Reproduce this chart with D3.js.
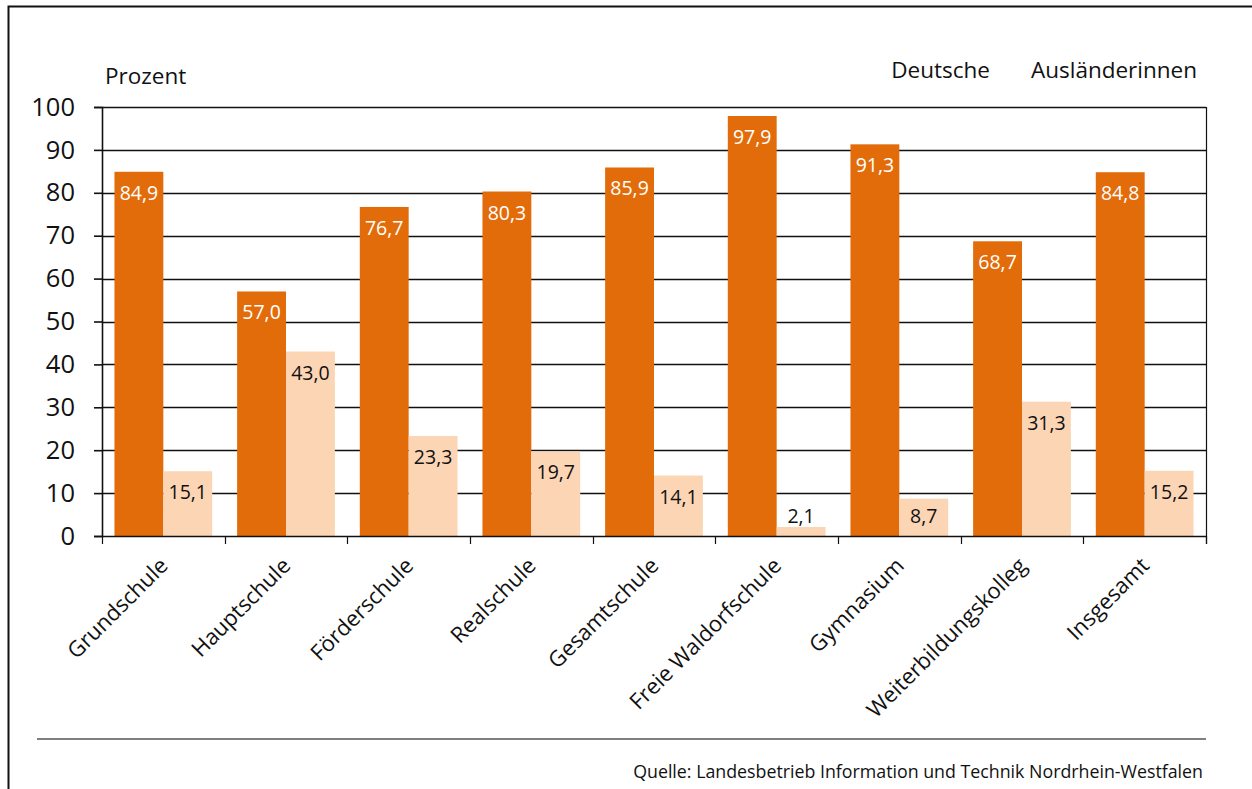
<!doctype html>
<html>
<head>
  <meta charset="utf-8">
  <script src="https://d3js.org/d3.v7.min.js"></script>
  <style>
    body { margin: 0; background: #fff; }
    svg text { font-family: 'Open Sans', sans-serif; fill: #111; }
  </style>
</head>
<body>
  <svg width="1252" height="789"></svg>
  <script>
    // Anteil Deutsche / Ausländerinnen nach Schulform, Prozent
    var schulformen = ["Grundschule", "Hauptschule", "Förderschule", "Realschule", "Gesamtschule",
      "Freie Waldorfschule", "Gymnasium", "Weiterbildungskolleg", "Insgesamt"];
    var deutsche = [84.9, 57.0, 76.7, 80.3, 85.9, 97.9, 91.3, 68.7, 84.8];
    var auslaenderinnen = [15.1, 43.0, 23.3, 19.7, 14.1, 2.1, 8.7, 31.3, 15.2];
    var serien = ["Deutsche", "Ausländerinnen"];
    var yTicks = [0, 10, 20, 30, 40, 50, 60, 70, 80, 90, 100];

    var svg = d3.select("svg");
    var m = { left: 102, right: 1206, top: 107, bottom: 536 };

    // outer frame (right/bottom edge outside the picture)
    svg.append("path")
      .attr("d", "M8.5,789V6.5H1252")
      .attr("fill", "none")
      .attr("stroke", "#111")
      .attr("stroke-width", 2);

    var x = d3.scaleBand().domain(schulformen).range([m.left, m.right]).paddingInner(0).paddingOuter(0);
    var x1 = d3.scaleBand().domain(serien).range([0, x.bandwidth()]).paddingOuter(0.255);
    var y = d3.scaleLinear().domain([0, 100]).range([m.bottom, m.top]);
    var colors = ["#e36c0a", "#fcd5b5"];

    // gridlines
    svg.append("g")
      .selectAll("line")
      .data(yTicks.slice(1))
      .enter()
      .append("line")
      .attr("x1", m.left).attr("x2", m.right)
      .attr("y1", d => Math.round(y(d)) + 0.5).attr("y2", d => Math.round(y(d)) + 0.5)
      .attr("stroke", "#111").attr("stroke-width", 1.6);

    // right border of the plot
    svg.append("line")
      .attr("x1", m.right + 0.5).attr("x2", m.right + 0.5)
      .attr("y1", m.top).attr("y2", m.bottom + 8)
      .attr("stroke", "#111").attr("stroke-width", 1.2);

    var rows = schulformen.map((s, i) => ({ s: s, vals: [deutsche[i], auslaenderinnen[i]] }));

    var groups = svg.append("g")
      .selectAll("g")
      .data(rows)
      .enter()
      .append("g")
      .attr("transform", d => "translate(" + x(d.s) + ",0)");

    groups.selectAll("rect")
      .data(d => d.vals.map((v, j) => ({ k: serien[j], v: v, j: j })))
      .enter()
      .append("rect")
      .attr("x", d => x1(d.k))
      .attr("width", x1.bandwidth())
      .attr("y", d => y(d.v))
      .attr("height", d => y(0) - y(d.v))
      .attr("fill", d => colors[d.j]);

    // value labels near the bar top; short bars keep the label just above the axis
    groups.selectAll("text")
      .data(d => d.vals.map((v, j) => ({ k: serien[j], v: v, j: j })))
      .enter()
      .append("text")
      .attr("x", d => x1(d.k) + x1.bandwidth() / 2)
      .attr("y", d => Math.min(y(d.v) + 28, y(0) - 13))
      .attr("text-anchor", "middle")
      .style("font-size", "19.5px")
      .style("fill", d => d.j === 0 ? "#fff" : "#111")
      .text(d => d3.format(".1f")(d.v).replace(".", ","));

    // y axis
    var yAxis = svg.append("g")
      .attr("transform", "translate(" + m.left + ",0)")
      .call(d3.axisLeft(y).tickValues(yTicks).tickSize(8).tickPadding(19).tickFormat(d3.format("d")));
    yAxis.select(".domain").attr("stroke", "#111").attr("stroke-width", 1.6);
    yAxis.selectAll(".tick line").attr("stroke", "#111").attr("stroke-width", 1.6);
    yAxis.selectAll("text").style("font-size", "25.5px").style("font-family", "'Open Sans', sans-serif").attr("fill", "#111");

    // x axis: ticks at group boundaries
    var xAxisG = svg.append("g");
    xAxisG.append("line")
      .attr("x1", m.left).attr("x2", m.right)
      .attr("y1", m.bottom + 0.5).attr("y2", m.bottom + 0.5)
      .attr("stroke", "#111").attr("stroke-width", 1.6);
    xAxisG.selectAll("line.t")
      .data(schulformen.concat(["end"]))
      .enter()
      .append("line")
      .attr("class", "t")
      .attr("x1", (d, i) => i < schulformen.length ? Math.round(x(d)) + 0.5 : m.right + 0.5)
      .attr("x2", (d, i) => i < schulformen.length ? Math.round(x(d)) + 0.5 : m.right + 0.5)
      .attr("y1", m.bottom).attr("y2", m.bottom + 8)
      .attr("stroke", "#111").attr("stroke-width", 1.2);

    xAxisG.selectAll("text")
      .data(schulformen)
      .enter()
      .append("text")
      .attr("transform", d => "translate(" + (x(d) + x.bandwidth() / 2 + 6) + "," + (m.bottom + 31) + ") rotate(-45)")
      .attr("text-anchor", "end")
      .style("font-size", "22px")
      .text(d => d);

    // titles and legend labels
    svg.append("text").attr("x", 105).attr("y", 84).style("font-size", "22.5px").text("Prozent");
    svg.append("text").attr("x", 990).attr("y", 78).attr("text-anchor", "end").style("font-size", "22.5px").text(serien[0]);
    svg.append("text").attr("x", 1197).attr("y", 78).attr("text-anchor", "end").style("font-size", "22.5px").text(serien[1]);

    // source
    svg.append("line")
      .attr("x1", 37).attr("x2", 1206).attr("y1", 739).attr("y2", 739)
      .attr("stroke", "#555").attr("stroke-width", 1.6);
    svg.append("text").attr("x", 1203).attr("y", 778).attr("text-anchor", "end")
      .style("font-size", "17.8px")
      .text("Quelle: Landesbetrieb Information und Technik Nordrhein-Westfalen");
  </script>
</body>
</html>
